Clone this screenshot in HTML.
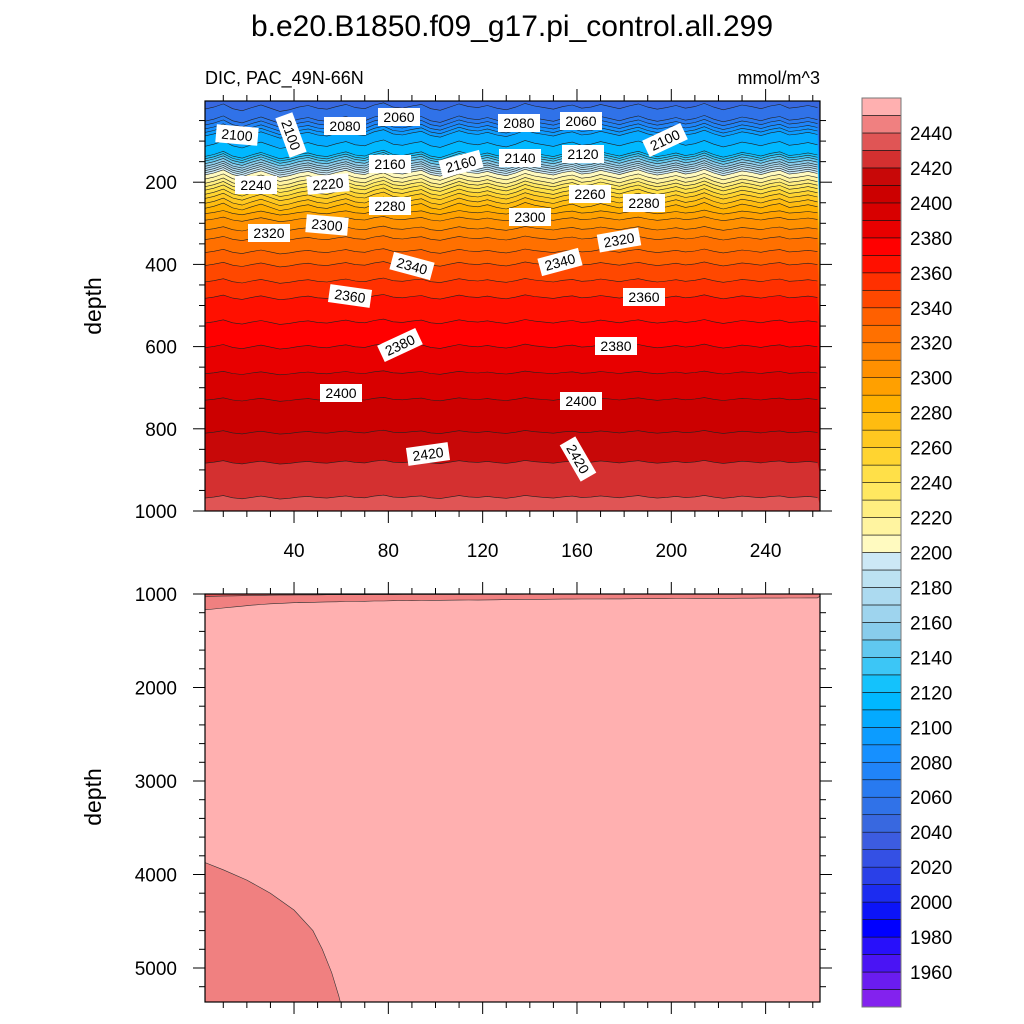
<!DOCTYPE html>
<html><head><meta charset="utf-8"><style>
body{margin:0;background:#fff}
svg{display:block;font-family:"Liberation Sans",sans-serif}
</style></head><body>
<svg id="c" width="1024" height="1024" viewBox="0 0 1024 1024">
<text x="512" y="36" font-size="30" text-anchor="middle">b.e20.B1850.f09_g17.pi_control.all.299</text>
<text x="205" y="84" font-size="18">DIC, PAC_49N-66N</text>
<text x="820" y="84" font-size="18" text-anchor="end">mmol/m^3</text>
<text transform="translate(101,306) rotate(-90)" font-size="23" text-anchor="middle">depth</text>
<text transform="translate(101,797) rotate(-90)" font-size="23" text-anchor="middle">depth</text>
<defs>
<clipPath id="ct"><rect x="205" y="101" width="615" height="410"/></clipPath>
<clipPath id="cb"><rect x="205" y="594" width="615" height="408"/></clipPath>
</defs>
<g id="topPanel" clip-path="url(#ct)"></g>
<g id="botPanel" clip-path="url(#cb)"></g>
<g id="labels"></g>
<g id="axes"></g>
<g id="cbar"></g>
</svg>
<script>
// ---- data ----
const profDepth = [0,44,63,80,130,141,154,175,195,212,232,256,288,335,398,478,598,727,807,880,965,1030,1150,5400];
const profDic   = [2045,2060,2080,2100,2120,2140,2160,2200,2220,2240,2260,2280,2300,2320,2340,2360,2380,2400,2410,2420,2430,2440,2450,2460];
const xCols = [];
for (let i=0;i<=65;i++) xCols.push(2+i*4);
const noise = [0.6,0.2,-0.4,0.5,0.9,0.3,-0.2,0.4,1.0,0.7,0.2,-0.1,0.4,0.6,0.1,-0.3,0.3,0.5,-0.2,-0.6,0.2,0.4,0.0,-0.3,0.5,0.8,0.2,-0.4,0.1,0.3,-0.1,0.4,0.7,0.2,-0.5,0.0,0.3,0.6,0.1,-0.2,0.4,0.2,-0.3,0.1,0.5,0.0,-0.4,0.2,0.6,0.3,-0.1,0.4,0.1,-0.5,0.2,0.7,0.3,-0.2,0.1,0.5,0.0,-0.3,0.4,0.2,-0.1,0.3];
const bot2450 = [1170,1160,1150,1140,1130,1120,1112,1105,1100,1095,1090,1092,1088,1085,1083,1080,1080,1078,1075,1075,1072,1070,1072,1070,1068,1067,1066,1065,1064,1065,1063,1062,1060,1060,1058,1058,1057,1056,1055,1055,1054,1054,1053,1052,1052,1051,1050,1050,1050,1049,1048,1048,1047,1047,1046,1046,1046,1045,1045,1044,1044,1044,1043,1043,1042,1042];
const bot2440 = [1030,1025,1022,1020,1018,1015,1015,1013,1012,1012,1010,1010,1010,1008,1008,1008,1007,1007,1006,1006,1006,1005,1005,1005,1005,1004,1004,1004,1004,1003,1003,1003,1003,1003,1002,1002,1002,1002,1002,1002,1002,1002,1002,1002,1001,1001,1001,1001,1001,1001,1001,1001,1001,1001,1001,1001,1001,1001,1001,1001,1001,1001,1001,1001,1001,1001];
const patchX = [2,10,20,30,40,48,52,56,59,60];
const patchD = [3870,3950,4060,4200,4380,4600,4800,5050,5300,5400];
const levels = []; for (let l=1950;l<=2450;l+=10) levels.push(l);
const colors = ["#8322ee","#6a1cf0","#4a14f4","#2810fa","#0000ff","#0c14f8","#1c2cf0","#2a40e8","#3450e4","#3c5ce0","#3868e0","#3072e8","#287af0","#2084f8","#1690ff","#0c9cff","#04aaff","#00b8ff","#14c2fc","#3cc6f6","#60c8f0","#88ccec","#9ed4ee","#acdaf0","#bce2f2","#cce8f6","#fffac0","#fff4a0","#ffee80","#ffe860","#ffe048","#ffd430","#ffc820","#ffbc10","#ffb000","#ffa000","#ff9000","#ff8000","#ff7000","#ff6000","#ff4800","#ff3000","#ff1000","#ff0000","#e80000","#d80000","#cc0000","#c80808","#d43030","#e05555","#f08080","#ffb0b0"];
const tickTopY = [200,400,600,800,1000];
const tickBotY = [1000,2000,3000,4000,5000];
const tickX = [40,80,120,160,200,240];
const cbLabels = [1960,1980,2000,2020,2040,2060,2080,2100,2120,2140,2160,2180,2200,2220,2240,2260,2280,2300,2320,2340,2360,2380,2400,2420,2440];
const contourLabels = [["2100",237,135,5],["2100",291,135,70],["2080",345,126,0],["2060",399,117,0],["2080",519,123,0],["2060",581,121,0],["2100",665,140,-25],["2160",390,164,0],["2160",461,164,-15],["2140",520,158,0],["2120",583,154,0],["2240",256,185,0],["2220",328,184,-5],["2280",390,206,0],["2260",590,194,0],["2300",530,217,0],["2280",644,203,0],["2320",269,233,0],["2300",327,225,5],["2340",412,266,15],["2340",560,262,-15],["2320",619,240,-10],["2360",350,296,8],["2360",644,297,0],["2380",400,345,-25],["2380",616,346,0],["2400",341,393,0],["2400",581,401,0],["2420",428,454,-8],["2420",578,459,60]];
// ---- scales ----
const NS="http://www.w3.org/2000/svg";
const sx = x => 199.7 + x*2.358;
const syT = d => 100 + d*0.411;
const syB = d => 594 + (d-1000)*0.0935;
function el(tag, attrs, parent){const e=document.createElementNS(NS,tag);for(const k in attrs)e.setAttribute(k,attrs[k]);parent.appendChild(e);return e;}
function depthOf(L){
  for(let i=0;i<profDic.length-1;i++){
    if(L>=profDic[i]&&L<=profDic[i+1]){const t=(L-profDic[i])/(profDic[i+1]-profDic[i]);return profDepth[i]+t*(profDepth[i+1]-profDepth[i]);}
  }
  return L<profDic[0]?-100:9000;
}
function colorOf(L){const i=levels.findIndex(l=>l>L);return colors[i<0?colors.length-1:i];}
// ---- top panel ----
const topG=document.getElementById('topPanel');
const bg=el('rect',{x:205,y:101,width:615,height:410,fill:colorOf(2045)},topG);


levels.forEach((L,li)=>{
  const d0=depthOf(L); if(d0<0||d0>1100) return;
  const amp = d0<260?13:(d0<600?8:6);
  let p='';
  xCols.forEach((x,i)=>{const d=d0+(noise[i]||0)*amp; p+=(i?'L':'M')+sx(x).toFixed(1)+','+syT(d).toFixed(1);});
  const fillP = p+'L'+sx(270)+','+syT(1100)+'L'+sx(-5)+','+syT(1100)+'Z';
  const band=el('path',{d:fillP,fill:colors[li+1]},topG);
  
  
  const line=el('path',{d:p,fill:'none',stroke:'#222','stroke-width':0.6},topG);
  
  
});
// ---- bottom panel ----
const botG=document.getElementById('botPanel');
const bb=el('rect',{x:205,y:594,width:615,height:408,fill:colorOf(2455)},botG);


function strip(arr,fill,name){
  let p='M'+sx(-5)+','+syB(900);
  xCols.forEach((x,i)=>{const v=arr[i]!==undefined?arr[i]:arr[arr.length-1];p+='L'+sx(x).toFixed(1)+','+syB(v).toFixed(1);});
  p+='L'+sx(270)+','+syB(900)+'Z';
  const s=el('path',{d:p,fill:fill,stroke:'#333','stroke-width':0.6},botG);
  
  
}
strip(bot2450,colorOf(2445),'band-2440-bottom');
strip(bot2440,colorOf(2435),'band-2430-bottom');
{
  let p='M'+sx(-5)+','+syB(patchD[0]);
  patchX.forEach((x,i)=>{p+='L'+sx(x).toFixed(1)+','+syB(patchD[i]).toFixed(1);});
  p+='L'+sx(-5)+','+syB(5500)+'Z';
  const s=el('path',{d:p,fill:colorOf(2445),stroke:'#333','stroke-width':0.6},botG);
  
  
}
// ---- contour labels ----
const lab=document.getElementById('labels');
contourLabels.forEach(c=>{
  const g=el('g',{transform:`translate(${c[1]},${c[2]}) rotate(${c[3]})`},lab);
  
  
  el('rect',{x:-21,y:-9,width:42,height:18,fill:'#fff'},g);
  const t=el('text',{x:0,y:5,'font-size':14,'text-anchor':'middle'},g);
  t.textContent=c[0];
});
// ---- axes ----
const ax=document.getElementById('axes');
function frame(y0,y1,name,yt,ys,minorStep,dmin,dmax,showX){
  const f=el('rect',{x:205,y:y0,width:615,height:y1-y0,fill:'none',stroke:'#000','stroke-width':1.2},ax);
  
  
  for(let d=dmin;d<=dmax;d+=minorStep){
    const y=ys(d); if(y<y0-0.5||y>y1+0.5) continue;
    const major=yt.includes(d);
    const len=major?12:6;
    el('line',{x1:205,x2:205-len,y1:y,y2:y,stroke:'#000','stroke-width':1},ax);
    el('line',{x1:820,x2:820+len,y1:y,y2:y,stroke:'#000','stroke-width':1},ax);
  }
  yt.forEach(d=>{
    const t=el('text',{x:177,y:ys(d)+7,'font-size':19,'text-anchor':'end'},ax);
    
    
    t.textContent=d;
  });
  for(let x=10;x<=260;x+=10){
    const major=tickX.includes(x);const len=major?12:6;
    el('line',{x1:sx(x),x2:sx(x),y1:y1,y2:y1+len,stroke:'#000','stroke-width':1},ax);
    el('line',{x1:sx(x),x2:sx(x),y1:y0,y2:y0-len,stroke:'#000','stroke-width':1},ax);
  }
  if(showX) tickX.forEach(x=>{
    const t=el('text',{x:sx(x),y:y1+46,'font-size':19,'text-anchor':'middle'},ax);
    
    
    t.textContent=x;
  });
}
frame(101,511,'top-panel',tickTopY,syT,50,0,1000,true);
frame(594,1002,'bottom-panel',tickBotY,syB,200,1000,5400,false);
// ---- colorbar ----
const cb=document.getElementById('cbar');
const cbTop=98,cbBot=1007,n=colors.length,h=(cbBot-cbTop)/n;
colors.forEach((c,i)=>{
  const r=el('rect',{x:862,y:cbBot-(i+1)*h,width:39,height:h,fill:c,stroke:'#111','stroke-width':0.6},cb);
  
  
});
el('rect',{x:862,y:cbTop,width:39,height:cbBot-cbTop,fill:'none',stroke:'#777','stroke-width':1},cb);
cbLabels.forEach(L=>{
  const i=levels.indexOf(L);
  const y=cbBot-(i+1)*h;
  const t=el('text',{x:910,y:y+7,'font-size':19},cb);
  
  
  t.textContent=L;
});
</script>
</body></html>
